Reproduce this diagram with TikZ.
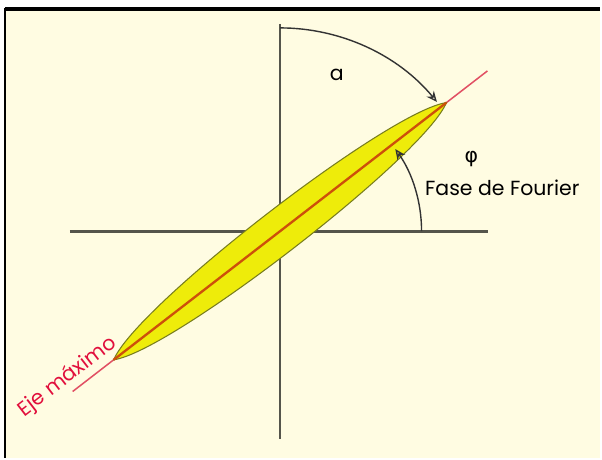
\documentclass[tikz,border=0pt]{standalone}
\usepackage{fontspec}
\setmainfont{Poppins}
\newfontfamily\greekfont{DejaVu Sans}
\usetikzlibrary{arrows.meta}

\definecolor{cream}{RGB}{255,252,226}
\definecolor{axisgray}{RGB}{85,85,75}
\definecolor{lensyellow}{RGB}{238,236,10}
\definecolor{lensedge}{RGB}{120,125,30}
\definecolor{coreorange}{RGB}{205,80,10}
\definecolor{rayred}{RGB}{225,80,100}
\definecolor{labelred}{RGB}{225,15,60}

\tikzset{
  axisline/.style={axisgray, line width=2.4pt},
  anglearc/.style={black!80, line width=1.2pt, -{Stealth[length=9pt,width=8pt,open]}},
  lens/.style={fill=lensyellow, draw=lensedge, line width=0.9pt},
  ray/.style={rayred, line width=1.3pt},
  core/.style={coreorange, line width=2pt},
  lbl/.style={font=\fontsize{17.5}{20}\selectfont, inner sep=0pt}
}

\begin{document}
\begin{tikzpicture}[x=0.03cm, y=0.03cm]
            % page and frame
            \fill[white] (-281,-228) rectangle (321,232);
            \fill[cream] (-275,-228) rectangle (321,221);
            \draw[black, line width=3.5pt] (-276,223) -- (321,223);
            \draw[black, line width=1.6pt] (-276,224) -- (-276,-228);
            \useasboundingbox (-281,-228) rectangle (321,232);

            \coordinate (O) at (0,0);
            % axes
            \draw[axisline] (-211,0) -- (209,0);
            \draw[axisline] (0,208) -- (0,-208);

            % lens along the main axis
            \begin{scope}[rotate=37.7]
            \coordinate (tipA) at (211,0);
            \coordinate (tipB) at (-211,0);
            \coordinate (rayA) at (263,0);
            \coordinate (rayB) at (-263,0);
            \draw[ray] (rayB) -- (rayA);
            \draw[lens] (tipB) .. controls (-160,29) and (160,29) .. (tipA)
                        .. controls (160,-29) and (-160,-29) .. (tipB) -- cycle;
            \draw[core] (tipB) -- (tipA);
            \node[lbl, labelred, rotate=37.7, anchor=base] (eje) at (-258,9) {Eje máximo};
            \end{scope}

            % angles
            \draw[anglearc] (0,204) arc (90:39.5:204);
            \draw[anglearc] (142,0) arc (0:35.5:142);

            \node[lbl] (a) at (57,157) {a};
            \node[lbl] (phi) at (192,72) {\greekfont φ};
            \node[lbl] (fase) at (223,44) {Fase de Fourier};
        \end{tikzpicture}
\end{document}
